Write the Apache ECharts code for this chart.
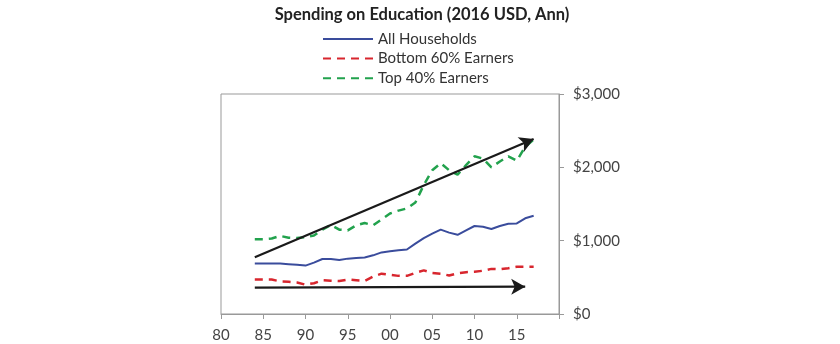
<!DOCTYPE html>
<html>
<head>
<meta charset="utf-8">
<script src="https://cdn.jsdelivr.net/npm/echarts@6/dist/echarts.min.js"></script>
<style>
html,body{margin:0;padding:0;background:#fff;}
#chart{width:840px;height:344px;}
</style>
</head>
<body>
<div id="chart"></div>
<script>
const titleText = 'Spending on Education (2016 USD, Ann)';
const seriesNames = ['All Households', 'Bottom 60% Earners', 'Top 40% Earners'];
const years = [1984,1985,1986,1987,1988,1989,1990,1991,1992,1993,1994,1995,1996,1997,1998,1999,2000,2001,2002,2003,2004,2005,2006,2007,2008,2009,2010,2011,2012,2013,2014,2015,2016,2017];
const allHouseholds = [690,690,690,688,680,670,660,700,750,750,735,755,765,770,800,840,855,870,880,960,1035,1095,1150,1110,1080,1140,1200,1190,1160,1200,1230,1235,1305,1340];
const bottom60 = [470,470,470,445,440,430,400,420,460,455,450,470,460,450,510,550,535,520,520,560,595,560,550,525,555,570,575,590,615,610,625,645,645,645];
const top40 = [1020,1020,1030,1065,1040,1035,1050,1070,1150,1215,1150,1140,1210,1240,1210,1290,1370,1410,1440,1520,1760,1960,2057,1960,1900,2030,2150,2120,2000,2080,2150,2090,2280,2380];
const upperArrow = [[1984, 775], [2017, 2385]];
const lowerArrow = [[1984, 360], [2016, 372]];
const xTicks = {min: 1980, max: 2020, interval: 5};
const yTicks = {min: 0, max: 3000, interval: 1000};

function pairs(xs, ys){ return xs.map((x,i)=>[x, ys[i]]); }

const chart = echarts.init(document.getElementById('chart'), null, {renderer:'canvas'});
const font = 'Lato, "Open Sans", sans-serif';
const option = {
  animation: false,
  backgroundColor: '#fff',
  title: {
    text: titleText,
    left: 417, textAlign: 'center', top: 1,
    textStyle: {fontFamily: font, fontWeight: 'bold', fontSize: 16.5, color: '#222'}
  },
  legend: {
    data: seriesNames,
    orient: 'vertical',
    left: 322, top: 31.5,
    padding: 0,
    itemWidth: 50, itemHeight: 14, itemGap: 4.6,
    itemStyle: {opacity: 0},
    textStyle: {fontFamily: font, fontSize: 15, color: '#333'}
  },
  grid: {
    left: 221, right: 281, top: 94, bottom: 30,
    show: true, borderColor: '#999', borderWidth: 1
  },
  xAxis: {
    type: 'value', min: xTicks.min, max: xTicks.max, interval: xTicks.interval,
    axisLine: {show: true, lineStyle: {color: '#999'}},
    axisTick: {show: true, length: 5, lineStyle: {color: '#999'}},
    splitLine: {show: false},
    axisLabel: {
      margin: 14, fontFamily: font, fontSize: 15, color: '#444',
      formatter: v => v >= 2020 ? '' : String(v % 100).padStart(2, '0')
    }
  },
  yAxis: {
    type: 'value', position: 'right', min: yTicks.min, max: yTicks.max, interval: yTicks.interval,
    axisLine: {show: true, lineStyle: {color: '#999'}},
    axisTick: {show: true, length: 5, lineStyle: {color: '#999'}},
    splitLine: {show: false},
    axisLabel: {
      margin: 14, fontFamily: font, fontSize: 15, color: '#444',
      formatter: v => '$' + v.toLocaleString('en-US')
    }
  },
  series: [
    {
      name: seriesNames[0], type: 'line', data: pairs(years, allHouseholds),
      showSymbol: false, symbol: 'none',
      lineStyle: {color: '#3a4c9c', width: 2}, itemStyle: {color: '#3a4c9c'}
    },
    {
      name: seriesNames[1], type: 'line', data: pairs(years, bottom60),
      showSymbol: false, symbol: 'none',
      lineStyle: {color: '#d8262e', width: 2.5, type: [8, 6]}, itemStyle: {color: '#d8262e'}
    },
    {
      name: seriesNames[2], type: 'line', data: pairs(years, top40),
      showSymbol: false, symbol: 'none',
      lineStyle: {color: '#22a24d', width: 2.5, type: [8, 6]}, itemStyle: {color: '#22a24d'}
    },
    {
      name: 'arrows', type: 'line', data: [], silent: true,
      markLine: {
        silent: true, animation: false,
        symbol: ['none', 'arrow'], symbolSize: [12, 14],
        label: {show: false},
        lineStyle: {color: '#1a1a1a', width: 2.2, type: 'solid'},
        data: [
          [{coord: upperArrow[0]}, {coord: upperArrow[1]}],
          [{coord: lowerArrow[0]}, {coord: lowerArrow[1]}]
        ]
      }
    }
  ]
};
chart.setOption(option);
</script>
</body>
</html>
